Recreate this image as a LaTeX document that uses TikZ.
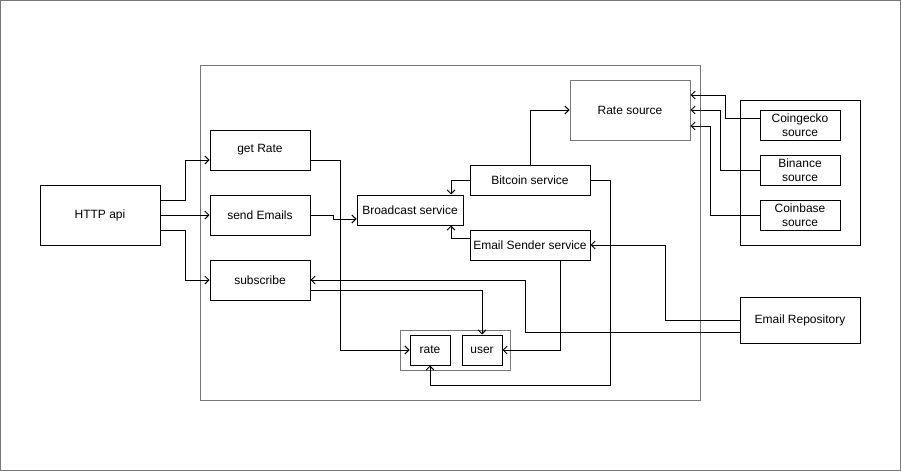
\documentclass[tikz,border=0pt]{standalone}
\usepackage{fontspec}
\setmainfont{Liberation Sans}
\usetikzlibrary{arrows.meta,calc}
\definecolor{bord}{HTML}{777777}
\begin{document}
\begin{tikzpicture}[x=1pt,y=-1pt,
  lbl/.style={font=\fontsize{12}{13.5}\selectfont, align=center, inner sep=0pt},
  box/.style={lbl, draw=black, line width=1pt},
  gbox/.style={lbl, draw=bord, line width=1pt},
  sz/.style 2 args={minimum width=#1, minimum height=#2},
  arr/.style={draw=black, line width=1pt, -{Straight Barb[length=4pt,width=8pt]}}]
\useasboundingbox (0,0) rectangle (901,471);
\draw[bord, line width=1pt] (0.5,0.5) rectangle (900.5,470.5);
% containers
\node[gbox, sz={500}{335}] (main) at (450,232.5) {};
\node[box, sz={120}{145}] (srcs) at (800,172.5) {};
\node[gbox, sz={110}{40}] (db) at (455,350) {};
% nodes
\node[box, sz={120}{60}] (http) at (100,215) {HTTP api};
\node[box, sz={100}{40}] (getrate) at (260,150) {get Rate};
\node[box, sz={100}{40}] (sendemails) at (260,215) {send Emails};
\node[box, sz={100}{40}] (subscribe) at (260,280) {subscribe};
\node[box, sz={106}{30}] (broadcast) at (410,210) {Broadcast service};
\node[box, sz={120}{30}] (bitcoin) at (530,180) {Bitcoin service};
\node[box, sz={120}{30}] (emailsender) at (530,245) {Email Sender service};
\node[gbox, sz={120}{60}] (ratesource) at (630,110) {Rate source};
\node[box, sz={80}{30}] (coingecko) at (800,125) {Coingecko\\source};
\node[box, sz={80}{30}] (binance) at (800,170) {Binance\\source};
\node[box, sz={80}{30}] (coinbase) at (800,215) {Coinbase\\source};
\node[box, sz={120}{46}] (emailrepo) at (800,320) {Email Repository};
\node[box, sz={40}{30}] (rate) at (430,350) {rate};
\node[box, sz={40}{30}] (user) at (482,350) {user};
% connectors
\draw[arr] ($(http.east)+(0,-15)$) -- ++(25,0) |- ($(getrate.west)+(0,10)$);
\draw[arr] (http.east) -- (sendemails.west);
\draw[arr] ($(http.east)+(0,15)$) -- ++(25,0) |- (subscribe.west);
\draw[arr] ($(getrate.east)+(0,10)$) -- ++(30,0) |- (rate.west);
\draw[arr] (sendemails.east) -- ++(23,0) -- ++(0,4) -- ($(broadcast.west)+(0,9)$);
\draw[arr] (bitcoin.west) -| ($(broadcast.north)+(41,0)$);
\draw[arr] ($(emailsender.west)+(0,-7)$) -| ($(broadcast.south)+(41,0)$);
\draw[arr] (bitcoin.north) |- (ratesource.west);
\draw[arr] (bitcoin.east) -- ++(20,0) |- ($(rate.south)+(0,20)$) -- (rate.south);
\draw[arr] ($(coingecko.west)+(0,-7)$) -- ++(-34,0) |- ($(ratesource.east)+(0,-15)$);
\draw[arr] (binance.west) -- ++(-39,0) |- (ratesource.east);
\draw[arr] (coinbase.west) -- ++(-49,0) |- ($(ratesource.east)+(0,16)$);
\draw[arr] (emailrepo.west) -- ++(-74,0) |- (emailsender.east);
\draw[arr] ($(emailrepo.west)+(0,12)$) -- ++(-214,0) |- (subscribe.east);
\draw[arr] ($(subscribe.east)+(0,10)$) -| (user.north);
\draw[arr] ($(emailsender.south)+(30,0)$) |- (user.east);
\end{tikzpicture}
\end{document}
